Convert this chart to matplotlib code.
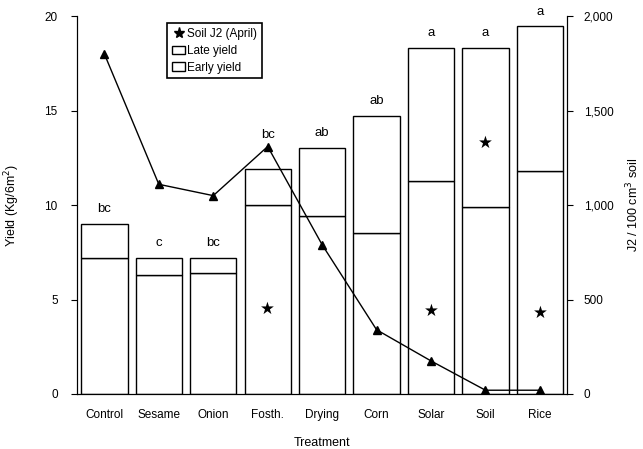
import matplotlib
matplotlib.use('Agg')
import matplotlib.pyplot as plt
import numpy as np
from matplotlib.lines import Line2D
from matplotlib.patches import Patch

plt.rcParams['font.family'] = ['Liberation Sans', 'DejaVu Sans']

# data
treatments = ['Control', 'Sesame', 'Onion', 'Fosth.', 'Drying', 'Corn', 'Solar', 'Soil', 'Rice']
early_yield = [7.2, 6.3, 6.4, 10.0, 9.4, 8.5, 11.3, 9.9, 11.8]
total_yield = [9.0, 7.2, 7.2, 11.9, 13.0, 14.7, 18.3, 18.3, 19.5]
late_yield = [t - e for t, e in zip(total_yield, early_yield)]
soil_j2 = [1800, 1110, 1050, 1310, 790, 340, 175, 20, 20]
letters = ['bc', 'c', 'bc', 'bc', 'ab', 'ab', 'a', 'a', 'a']
letter_y = [9.8, 8.0, 8.0, 13.7, 13.8, 15.5, 19.1, 19.1, 20.2]
star_pos = {3: 4.5, 6: 4.4, 7: 13.3, 8: 4.3}

fig = plt.figure(figsize=(6.43, 4.49), dpi=100)
ax = fig.add_axes([0.12, 0.1225, 0.762, 0.8415])
x = np.arange(len(treatments))

# stacked bars
ax.bar(x, early_yield, width=0.85, color='white', edgecolor='black', linewidth=1.0)
ax.bar(x, late_yield, bottom=early_yield, width=0.85, color='white', edgecolor='black', linewidth=1.0)

for i, lab in enumerate(letters):
    ax.text(x[i], letter_y[i], lab, ha='center', va='center', fontsize=9.5, zorder=5)
for i, yv in star_pos.items():
    ax.text(x[i], yv, '\u2605', ha='center', va='center', fontsize=12,
            family='DejaVu Sans', zorder=5)

ax.set_xlim(-0.5, 8.5)
ax.set_ylim(0, 20)
ax.set_yticks([0, 5, 10, 15, 20])
ax.set_xticks(x)
ax.set_xticklabels(treatments, fontsize=8.5)
ax.tick_params(axis='x', length=0, pad=11)
ax.tick_params(axis='y', labelsize=8.5, length=4, direction='out', pad=10)
ax.set_xlabel('Treatment', fontsize=9, labelpad=11)
ax.set_ylabel('Yield (Kg/6m$^2$)', fontsize=9, labelpad=16)
ax.spines['top'].set_visible(False)

# nematode line on right axis
ax2 = ax.twinx()
ax2.plot(x, soil_j2, color='black', linewidth=1.0, marker='^', markersize=6)
ax2.set_ylim(0, 2000)
ax2.set_yticks([0, 500, 1000, 1500, 2000])
ax2.set_yticklabels(['0', '500', '1,000', '1,500', '2,000'])
ax2.tick_params(axis='y', labelsize=8.5, length=4, direction='out', pad=8)
ax2.set_ylabel('J2 / 100 cm$^3$ soil', fontsize=9, labelpad=8)
ax2.spines['top'].set_visible(False)

handles = [Line2D([], [], color='black', marker='*', linestyle='none', markersize=8),
           Patch(facecolor='white', edgecolor='black'),
           Patch(facecolor='white', edgecolor='black')]
leg = ax2.legend(handles, ['Soil J2 (April)', 'Late yield', 'Early yield'],
                 loc='upper left', bbox_to_anchor=(0.177, 0.99), fontsize=8.5,
                 frameon=True, fancybox=False, edgecolor='black', framealpha=1,
                 handlelength=1.1, handletextpad=0.2, borderpad=0.4, labelspacing=0.4,
                 borderaxespad=0.3)
leg.get_frame().set_linewidth(1.2)

fig.savefig('out.png', dpi=100)
